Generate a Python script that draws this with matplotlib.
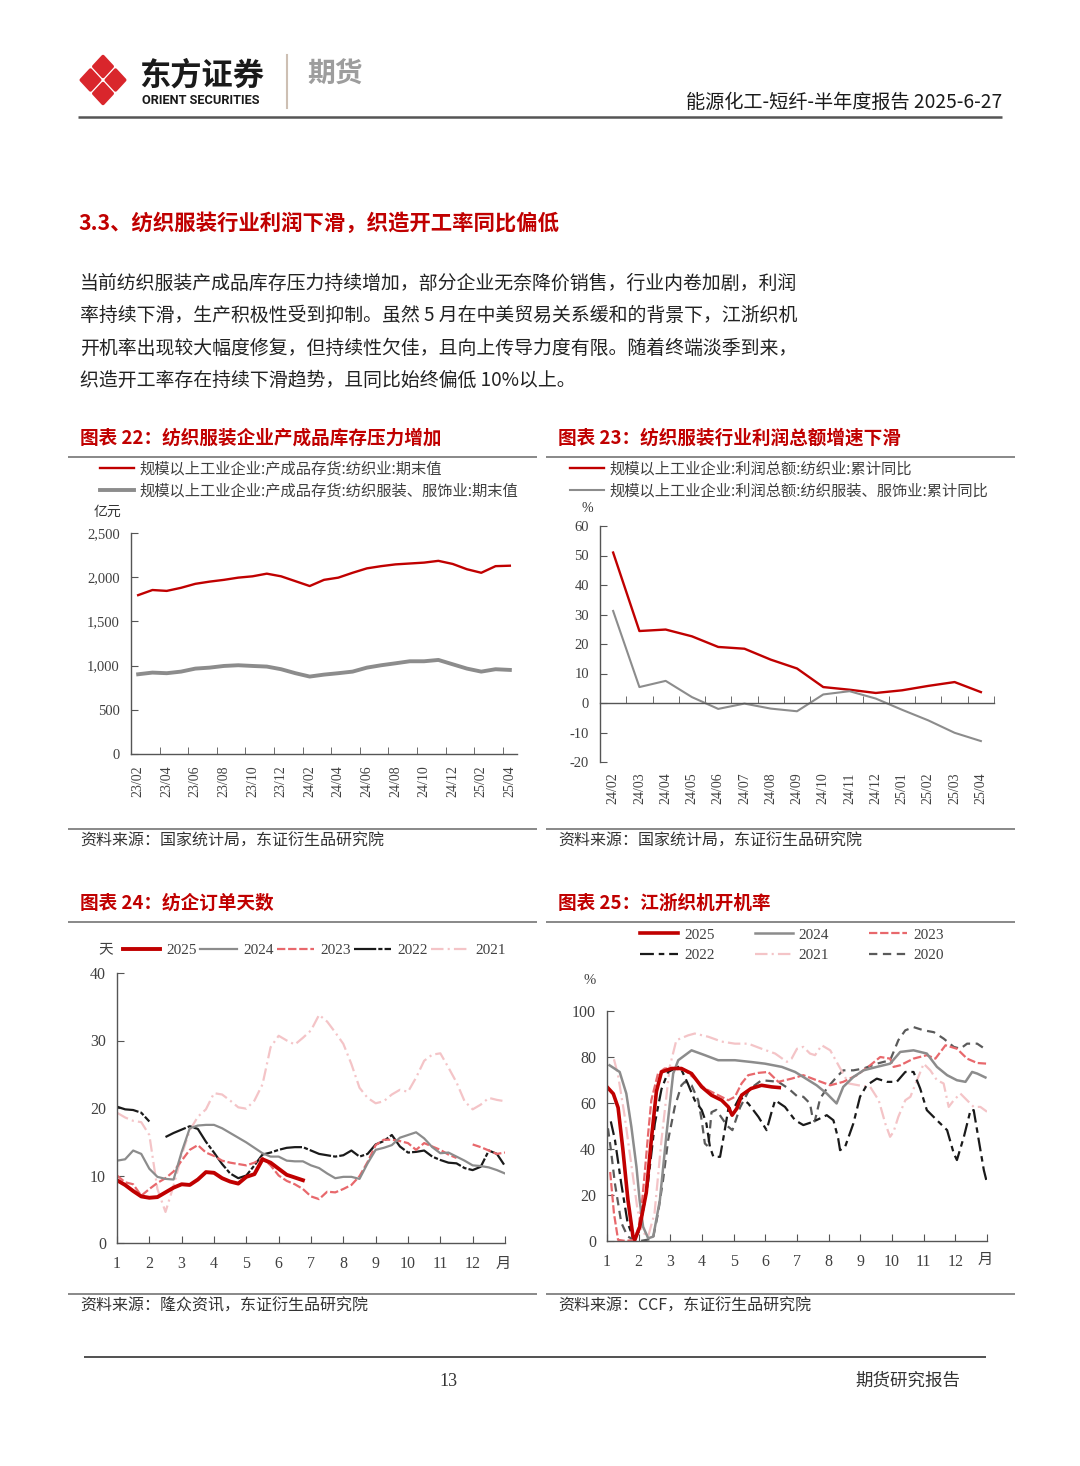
import numpy as np
import matplotlib
matplotlib.use("Agg")
import matplotlib.pyplot as plt
from matplotlib.patches import Polygon
from matplotlib.font_manager import FontProperties

plt.rcParams['lines.scale_dashes'] = False
plt.rcParams['axes.unicode_minus'] = False

CJK = 'Noto Sans CJK SC'
SERIF = 'Liberation Serif'
W, H = 1080, 1466

RED = '#c00000'
GRAY = '#8c8c8c'
TXT = '#333333'

# ---- 图表22: 产成品存货 (亿元) ----
months22 = ['23/02', '23/03', '23/04', '23/05', '23/06', '23/07', '23/08', '23/09',
            '23/10', '23/11', '23/12', '24/01', '24/02', '24/03', '24/04', '24/05',
            '24/06', '24/07', '24/08', '24/09', '24/10', '24/11', '24/12', '25/01',
            '25/02', '25/03', '25/04']
inv_textile = [1797, 1855, 1845, 1880, 1925, 1950, 1970, 1995, 2010, 2040, 2010, 1955,
               1900, 1970, 1995, 2050, 2100, 2125, 2145, 2155, 2165, 2185, 2150, 2090,
               2050, 2125, 2130]
inv_apparel = [902, 921, 914, 932, 966, 977, 996, 1004, 996, 989, 959, 914,
               876, 898, 914, 932, 977, 1004, 1026, 1049, 1049, 1064, 1015, 966,
               932, 959, 951]

# ---- 图表23: 利润总额累计同比 (%) ----
months23 = ['24/02', '24/03', '24/04', '24/05', '24/06', '24/07', '24/08', '24/09',
            '24/10', '24/11', '24/12', '25/01', '25/02', '25/03', '25/04']
profit_textile = [51.0, 24.4, 24.9, 22.6, 19.0, 18.4, 14.7, 11.7, 5.4, 4.5, 3.4, 4.3, 5.8, 7.1, 3.7]
profit_apparel = [31.2, 5.4, 7.5, 2.0, -2.0, -0.2, -1.9, -2.8, 2.9, 4.0, 1.5, -2.3, -5.9, -10.1, -12.9]

# ---- 图表24: 纺企订单天数 (天), 每1/4月一个点 ----
week24 = np.arange(1, 13.01, 0.25)
days_2025 = [9.3, 8.6, 7.7, 6.9, 6.7, 6.8, 7.5, 8.2, 8.7, 8.6, 9.4, 10.5,
             10.4, 9.6, 9.1, 8.8, 9.8, 10.2, 12.4, 11.9, 11.0, 10.1, 9.7, 9.3]
days_2024 = [12.2, 12.4, 13.7, 13.2, 11.0, 9.8, 9.5, 9.4, 13.5, 17.0, 17.4, 17.5,
             17.5, 17.0, 16.3, 15.6, 14.9, 14.1, 13.3, 12.8, 12.8, 12.2, 12.1, 12.1,
             11.5, 11.1, 10.3, 9.6, 9.8, 9.8, 9.5, 11.8, 13.8, 14.1, 14.5, 15.6,
             16.0, 16.4, 15.5, 14.2, 13.3, 13.4, 12.8, 12.2, 11.5, 11.4, 11.2, 10.8, 10.3]
days_2023 = [10.0, 9.0, 8.7, 7.0, 8.0, 8.9, 9.6, 10.6, 12.2, 13.8, 14.5, 13.4,
             12.9, 12.2, 11.9, 11.7, 11.5, 11.9, 12.6, 11.5, 10.0, 9.2, 8.7, 8.0,
             6.9, 6.5, 7.6, 7.5, 8.0, 8.6, 9.9, 12.0, 14.5, 15.3, 15.3, 15.1,
             14.8, 13.8, 14.8, 14.3, 13.8, 13.1, 12.6, np.nan, 14.6, 14.2, 13.7, 13.2, 13.4]
days_2022 = [20.2, 19.8, 19.7, 19.3, 18.0, np.nan, 15.7, 16.3, 16.8, 17.3, 16.9, 15.0,
             13.4, 11.7, 10.3, 9.6, 10.0, 11.5, 13.1, 13.4, 13.8, 14.1, 14.2, 14.2,
             13.7, 13.2, 13.0, 12.8, 13.0, 13.7, 12.8, 13.2, 14.6, 15.1, 16.0, 14.3,
             13.4, 13.5, 13.7, 12.8, 12.3, 11.9, 11.8, 11.1, 10.8, 11.3, 13.7, 13.2, 11.4]
days_2021 = [19.3, 18.6, 18.1, 17.9, 16.0, 8.0, 4.6, 8.5, 13.0, 16.7, 18.7, 19.8,
             22.2, 22.0, 21.1, 20.1, 19.9, 21.1, 23.5, 29.0, 30.7, 30.0, 29.4, 30.4,
             31.5, 33.8, 32.8, 31.2, 29.5, 26.5, 23.0, 21.5, 20.7, 21.0, 22.0, 22.7,
             22.4, 24.5, 27.0, 27.9, 28.1, 26.0, 23.8, 21.0, 19.8, 20.5, 21.5, 21.2, 21.0]

# ---- 图表25: 江浙织机开机率 (%) ----
rate25_x = [1.0, 1.2, 1.35, 1.5, 1.66, 1.82, 1.88, 2.03, 2.24, 2.4, 2.56, 2.72, 3.04,
            3.35, 3.67, 3.99, 4.3, 4.62, 4.83, 4.95, 5.1, 5.25, 5.55, 5.88, 6.2, 6.44]
rate25_y = [67, 64, 58, 40, 18, 2, 0.5, 6, 21, 44, 65, 73.5, 75,
            75, 72.8, 67, 63.4, 61.2, 58.3, 54.7, 57.6, 63.4, 66.3, 67.7, 67, 66.7]
rate24_x = [1.08, 1.4, 1.61, 1.77, 1.93, 2.03, 2.14, 2.3, 2.46, 2.67, 2.88, 3.09, 3.25,
            3.67, 4.09, 4.51, 5.04, 5.57, 5.99, 6.52, 6.94, 7.2, 7.62, 7.94, 8.25, 8.46,
            8.78, 9.1, 9.52, 9.94, 10.26, 10.68, 11.1, 11.42, 11.74, 12.05, 12.32, 12.53,
            12.69, 12.95]
rate24_y = [76.4, 73.5, 64.1, 49.6, 32.3, 17.8, 6.2, 1.2, 1.9, 17.8, 46.7, 72.8, 78.6,
            82.9, 80.8, 78.6, 78.6, 77.8, 77.1, 75.7, 73.5, 71.3, 67.7, 64.1, 59.8, 67.0,
            71.3, 74.2, 75.7, 77.1, 82.2, 82.9, 81.5, 75.7, 72.1, 69.9, 69.2, 73.5,
            72.8, 71.1]
rate23_x = [1.1, 1.22, 1.35, 1.6, 1.85, 2.0, 2.1, 2.19, 2.3, 2.4, 2.61, 2.82, 3.14,
            3.46, 3.77, 4.09, 4.41, 4.83, 5.04, 5.25, 5.46, 5.78, 6.09, 6.41, 6.83, 7.2,
            7.62, 8.05, 8.46, 8.89, 9.31, 9.63, 9.94, 10.05, 10.26, 10.68, 11.1, 11.37,
            11.69, 12.05, 12.37, 12.69, 13.0]
rate23_y = [30, 12, 0.5, 0, 0.5, 6, 16, 29.4, 46.7, 61.2, 72.8, 75, 75,
            74.2, 70.6, 66.3, 64.1, 61.2, 62.7, 68.5, 72.1, 73.1, 73.5, 69.2, 70.6, 72.1,
            69.9, 67.7, 69.2, 72.1, 76.4, 80.0, 79.3, 75.7, 76.4, 79.3, 80.8, 79.3,
            85.1, 83.6, 79.3, 77.4, 77.1]
rate22_x = [1.12, 1.25, 1.45, 1.65, 1.85, 2.0, 2.15, 2.3, 2.51, 2.72, 2.93, 3.3, 3.55,
            3.77, 3.99, 4.14, 4.25, 4.36, 4.57, 4.7, 4.83, 5.04, 5.2, 5.46, 5.78, 6.04,
            6.2, 6.31, 6.62, 6.94, 7.2, 7.5, 7.94, 8.15, 8.3, 8.36, 8.52, 8.78, 8.99,
            9.2, 9.52, 9.84, 10.15, 10.42, 10.68, 10.89, 11.1, 11.42, 11.74, 11.95, 12.05,
            12.27, 12.48, 12.58, 12.74, 12.9, 13.0]
rate22_y = [52, 44, 25, 8, 0.5, 4, 14, 26, 51, 66, 73.5, 76, 68.5,
            61.2, 57, 51, 41, 36.6, 36.6, 46.7, 57.3, 58.6, 62.7, 59.8, 54, 48.2,
            56.2, 61.2, 58.3, 52.5, 50.4, 51.8, 54.7, 52.5, 44.6, 39.5, 41, 51.1, 62.7,
            67.7, 70.6, 69.2, 69.2, 73.5, 73.5, 66.3, 56.9, 52.5, 48.2, 38.1, 35.2,
            45.3, 56.9, 56.9, 43.8, 30.8, 25.3]
rate21_x = [1.22, 1.35, 1.55, 1.75, 1.95, 2.1, 2.3, 2.5, 2.72, 2.98, 3.19, 3.56, 3.77,
            4.2, 4.62, 5.04, 5.46, 5.88, 6.31, 6.68, 6.83, 7.0, 7.2, 7.41, 7.57, 7.78,
            8.05, 8.31, 8.63, 8.94, 9.31, 9.58, 9.79, 9.94, 10.05, 10.2, 10.42, 10.58,
            10.79, 11.0, 11.21, 11.42, 11.63, 11.79, 11.95, 12.16, 12.37, 12.58, 12.79, 13.0]
rate21_y = [79, 72, 55, 35, 15, 4, 2, 12, 43.8, 75.7, 87.3, 89.4, 90.2,
            88.8, 86.7, 85.8, 85.8, 83.6, 81.5, 77.9, 79.3, 83.6, 84.4, 81.5, 80.8, 85.1,
            82.9, 76.4, 68.5, 67.7, 67, 61.2, 51, 45.3, 47.5, 54, 61.2, 62.7,
            69.9, 77.1, 74.2, 69.9, 68.5, 58.3, 61.2, 64.1, 61.2, 58.3, 58.3, 56.2]
rate20_x = [1.03, 1.12, 1.25, 1.45, 1.65, 1.85, 2.05, 2.25, 2.45, 2.61, 2.77, 2.93, 3.14,
            3.35, 3.46, 3.67, 3.88, 3.99, 4.09, 4.2, 4.3, 4.45, 4.6, 4.8, 4.96, 5.2,
            5.5, 5.88, 6.2, 6.41, 6.73, 7.0, 7.2, 7.41, 7.5, 7.56, 7.73, 7.94, 8.25,
            8.46, 8.78, 9.1, 9.52, 9.94, 10.05, 10.2, 10.42, 10.68, 11.0, 11.32, 11.63,
            11.95, 12.16, 12.37, 12.69, 13.0]
rate20_y = [49, 40, 25, 8, 2, 0.5, 0, 0.5, 1, 12, 26.5, 43.8, 58.3,
            67.7, 69.2, 67.7, 61.2, 52.5, 42.4, 41, 56, 57, 54, 50, 48.2, 58,
            66, 69.9, 69.5, 69.2, 66.3, 63, 62.7, 59.8, 53, 52, 61.9, 66.3, 71.3,
            74.2, 74.2, 75, 77.1, 78.6, 82.2, 87.3, 91.6, 93, 91.6, 90.8, 88,
            84.4, 83.6, 85.8, 85.8, 82.9]

month_labels = [str(m) for m in range(1, 13)]

para = ["当前纺织服装产成品库存压力持续增加，部分企业无奈降价销售，行业内卷加剧，利润",
        "率持续下滑，生产积极性受到抑制。虽然 5 月在中美贸易关系缓和的背景下，江浙织机",
        "开机率出现较大幅度修复，但持续性欠佳，且向上传导力度有限。随着终端淡季到来，",
        "织造开工率存在持续下滑趋势，且同比始终偏低 10%以上。"]


fig = plt.figure(figsize=(W / 100, H / 100), dpi=100)
fig.patch.set_facecolor('white')

# page layer in pixel coordinates
page = fig.add_axes([0, 0, 1, 1])
page.set_xlim(0, W)
page.set_ylim(H, 0)
page.axis('off')


def px_axes(left, top, right, bottom):
    a = fig.add_axes([left / W, 1 - bottom / H, (right - left) / W, (bottom - top) / H])
    a.set_facecolor('none')
    for s in ['top', 'right']:
        a.spines[s].set_visible(False)
    for s in ['left', 'bottom']:
        a.spines[s].set_color('#555555')
        a.spines[s].set_linewidth(1.0)
    return a


def ptxt(x, y, s, size, color=TXT, weight='normal', ha='left', family=CJK, **kw):
    page.text(x, y, s, fontsize=size, color=color, fontweight=weight, ha=ha, va='center',
              family=family, **kw)


def hline(x0, x1, y, color='#7f7f7f', lw=1.3):
    page.plot([x0, x1], [y, y], color=color, lw=lw, solid_capstyle='butt')


# ---- header ----
T, Rt, B, L, C = (103, 53), (128, 80), (103, 107), (78, 80), (103, 80)
mid = lambda p, q: ((p[0] + q[0]) / 2, (p[1] + q[1]) / 2)
pieces = [[T, mid(T, Rt), C, mid(L, T)], [mid(T, Rt), Rt, mid(Rt, B), C],
          [C, mid(Rt, B), B, mid(B, L)], [mid(L, T), C, mid(B, L), L]]
for pc in pieces:
    pc = np.array(pc, dtype=float)
    cen = pc.mean(axis=0)
    pc = cen + (pc - cen) * 0.74
    page.add_patch(Polygon(pc, closed=True, facecolor='#d9262c', edgecolor='#d9262c',
                           lw=2.5, joinstyle='round'))
ptxt(139, 76, "东方证券", 22.5, color='#1a1a1a', weight='bold')
ptxt(142, 100, "ORIENT SECURITIES", 9.2, color='#1a1a1a', weight='bold', family='Roboto')
page.plot([287, 287], [55, 108], color='#cdbfb3', lw=1.5)
ptxt(307, 75, "期货", 20, color='#9d9d9d', weight='bold')
ptxt(1002, 102, "能源化工-短纤-半年度报告 2025-6-27", 13.8, color='#1a1a1a', ha='right')
hline(78, 1002, 117, color='#555555', lw=1.8)

# ---- text ----
ptxt(78, 223, "3.3、纺织服装行业利润下滑，织造开工率同比偏低", 15.4, color=RED, weight='bold')
for i, line in enumerate(para):
    ptxt(80, 283 + i * 32.5, line, 13.6, color='#222222')

# ---- chart frames ----
ptxt(80, 438, "图表 22：纺织服装企业产成品库存压力增加", 13.4, color=RED, weight='bold')
ptxt(558, 438, "图表 23：纺织服装行业利润总额增速下滑", 13.4, color=RED, weight='bold')
ptxt(80, 903, "图表 24：纺企订单天数", 13.4, color=RED, weight='bold')
ptxt(558, 903, "图表 25：江浙织机开机率", 13.4, color=RED, weight='bold')
for y in (457, 829):
    hline(68, 537, y)
    hline(546, 1015, y)
for y in (922, 1294):
    hline(68, 537, y)
    hline(546, 1015, y)
ptxt(80, 841, "资料来源：国家统计局，东证衍生品研究院", 11.5)
ptxt(558, 841, "资料来源：国家统计局，东证衍生品研究院", 11.5)
ptxt(80, 1306, "资料来源：隆众资讯，东证衍生品研究院", 11.5)
ptxt(558, 1306, "资料来源：CCF，东证衍生品研究院", 11.5)

# ---- footer ----
hline(84, 986, 1357, color='#333333', lw=1.2)
ptxt(448, 1381, "13", 13, family=SERIF, ha='center')
ptxt(960, 1381, "期货研究报告", 12.6, ha='right')

tick_font = dict(family=SERIF, color='#404040')
leg_cjk = FontProperties(family=CJK, size=11.0)
leg_num = FontProperties(family=SERIF, size=11)

# ---- chart 22 ----
ax1 = px_axes(131, 533, 517, 754)
x22 = np.arange(len(months22))
l1, = ax1.plot(x22, inv_textile, color=RED, lw=1.7)
l2, = ax1.plot(x22, inv_apparel, color=GRAY, lw=2.8)
ax1.set_xlim(-0.5, len(months22) - 0.5)
ax1.set_ylim(0, 2500)
ax1.set_yticks(np.arange(0, 2501, 500))
ax1.set_yticklabels([f"{v:,}" for v in range(0, 2501, 500)], fontsize=10.5, **tick_font)
ax1.set_xticks(x22[::2])
ax1.set_xticklabels(months22[::2], rotation=90, fontsize=10, **tick_font)
ax1.set_xticks(np.arange(1.5, len(months22) - 1, 2), minor=True)
ax1.tick_params(axis='x', which='major', length=0, pad=8)
ax1.tick_params(axis='x', which='minor', direction='in', length=5, color='#555555')
ax1.tick_params(axis='y', direction='in', length=5, color='#555555', pad=8)
fig.legend([l1, l2], ["规模以上工业企业:产成品存货:纺织业:期末值",
                      "规模以上工业企业:产成品存货:纺织服装、服饰业:期末值"],
           loc='upper left', bbox_to_anchor=(100 / W, 1 - 460 / H), frameon=False,
           prop=leg_cjk, handlelength=2.2, handletextpad=0.4, labelspacing=0.35,
           borderpad=0, borderaxespad=0, labelcolor='#404040')
ptxt(107, 512, "亿元", 10, ha='center')

# ---- chart 23 ----
ax2 = px_axes(600, 526, 994, 762)
x23 = np.arange(len(months23))
l3, = ax2.plot(x23, profit_textile, color=RED, lw=1.7)
l4, = ax2.plot(x23, profit_apparel, color=GRAY, lw=1.5)
ax2.set_xlim(-0.5, len(months23) - 0.5)
ax2.set_ylim(-20, 60)
ax2.spines['bottom'].set_position(('data', 0))
ax2.set_yticks(np.arange(-20, 61, 10))
ax2.set_yticklabels([str(v) for v in range(-20, 61, 10)], fontsize=10.5, **tick_font)
ax2.set_xticks(x23)
ax2.set_xticklabels(months23, rotation=90, fontsize=10, **tick_font)
ax2.set_xticks(np.arange(0.5, len(months23), 1), minor=True)
ax2.tick_params(axis='x', which='major', length=0, pad=50)
ax2.tick_params(axis='x', which='minor', direction='in', length=5, color='#555555')
ax2.tick_params(axis='y', direction='in', length=5, color='#555555', pad=8)
fig.legend([l3, l4], ["规模以上工业企业:利润总额:纺织业:累计同比",
                      "规模以上工业企业:利润总额:纺织服装、服饰业:累计同比"],
           loc='upper left', bbox_to_anchor=(570 / W, 1 - 460 / H), frameon=False,
           prop=leg_cjk, handlelength=2.2, handletextpad=0.4, labelspacing=0.35,
           borderpad=0, borderaxespad=0, labelcolor='#404040')
ptxt(581, 509, "%", 10, family=SERIF)

# ---- chart 24 ----
ax3 = px_axes(117, 973, 505, 1243)
styles24 = [
    ('2021', days_2021, dict(color='#f4c4c7', lw=1.6, dashes=(9, 3, 1.5, 3))),
    ('2022', days_2022, dict(color='#1a1a1a', lw=1.6, dashes=(16, 1.5, 3, 1.5))),
    ('2023', days_2023, dict(color='#e8686c', lw=1.6, dashes=(6, 2))),
    ('2024', days_2024, dict(color=GRAY, lw=1.6)),
    ('2025', days_2025, dict(color=RED, lw=2.8)),
]
h24 = {}
for name, vals, st in styles24:
    h24[name], = ax3.plot(week24[:len(vals)], vals, **st)
ax3.set_xlim(1, 13)
ax3.set_ylim(0, 40)
ax3.set_yticks(np.arange(0, 41, 10))
ax3.set_yticklabels([str(v) for v in range(0, 41, 10)], fontsize=11.5, **tick_font)
ax3.set_xticks(np.arange(1, 14))
ax3.set_xticklabels(month_labels + [''], fontsize=11.5, **tick_font)
ax3.tick_params(axis='x', direction='in', length=5, color='#555555', pad=9)
ax3.tick_params(axis='y', direction='in', length=5, color='#555555', pad=8)
ax3.text(12.95, -0.045, "月", transform=ax3.get_xaxis_transform(), ha='center', va='top',
         fontsize=11, family=CJK, color='#404040')
order24 = ['2025', '2024', '2023', '2022', '2021']
fig.legend([h24[k] for k in order24], order24, loc='center left',
           bbox_to_anchor=(123 / W, 1 - 950 / H), ncol=5, frameon=False, prop=leg_num,
           handlelength=2.4, handletextpad=0.45, columnspacing=0.2,
           borderpad=0, borderaxespad=0, labelcolor='#404040')
ptxt(98, 949, "天", 10.5, color='#404040')

# ---- chart 25 ----
ax4 = px_axes(607, 1011, 987, 1241)
styles25 = [
    ('2020', rate20_x, rate20_y, dict(color='#5a5a5a', lw=1.6, dashes=(6, 4))),
    ('2021', rate21_x, rate21_y, dict(color='#f4c4c7', lw=1.6, dashes=(9, 3, 1.5, 3))),
    ('2022', rate22_x, rate22_y, dict(color='#1a1a1a', lw=1.6, dashes=(10, 3.5, 4, 3.5))),
    ('2023', rate23_x, rate23_y, dict(color='#e8686c', lw=1.6, dashes=(6, 2))),
    ('2024', rate24_x, rate24_y, dict(color=GRAY, lw=1.8)),
    ('2025', rate25_x, rate25_y, dict(color=RED, lw=2.6)),
]
h25 = {}
for name, xs, ys, st in styles25:
    h25[name], = ax4.plot(xs, ys, **st)
ax4.set_xlim(1, 13)
ax4.set_ylim(0, 100)
ax4.set_yticks(np.arange(0, 101, 20))
ax4.set_yticklabels([str(v) for v in range(0, 101, 20)], fontsize=11.5, **tick_font)
ax4.set_xticks(np.arange(1, 14))
ax4.set_xticklabels(month_labels + [''], fontsize=11.5, **tick_font)
ax4.tick_params(axis='x', direction='in', length=5, color='#555555', pad=9)
ax4.tick_params(axis='y', direction='in', length=5, color='#555555', pad=8)
ax4.text(12.95, -0.045, "月", transform=ax4.get_xaxis_transform(), ha='center', va='top',
         fontsize=11, family=CJK, color='#404040')
order25 = ['2025', '2022', '2024', '2021', '2023', '2020']
fig.legend([h25[k] for k in order25], order25, loc='upper left',
           bbox_to_anchor=(640 / W, 1 - 928 / H), ncol=3, frameon=False, prop=leg_num,
           handlelength=2.5, handletextpad=0.4, columnspacing=2.6, labelspacing=0.45,
           borderpad=0, borderaxespad=0, labelcolor='#404040')
ptxt(583, 981, "%", 10.5, family=SERIF, color='#404040')

fig.savefig("out.png", dpi=100, facecolor='white')
